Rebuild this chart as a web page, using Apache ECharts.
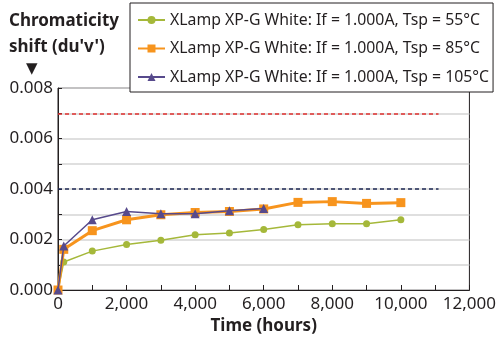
<!DOCTYPE html>
<html>
<head>
<meta charset="utf-8">
<script src="https://cdn.jsdelivr.net/npm/echarts@6/dist/echarts.min.js"></script>
<style>
  html, body { margin: 0; padding: 0; background: #fff; }
  #main { width: 499px; height: 342px; }
</style>
</head>
<body>
<div id="main"></div>
<script>
// time points (hours)
const hours = [0, 168, 1000, 2000, 3000, 4000, 5000, 6000, 7000, 8000, 9000, 10000];
// chromaticity shift du'v'
const tsp55 = [0, 0.00111, 0.00154, 0.00180, 0.00197, 0.00219, 0.00226, 0.00240, 0.00258, 0.00262, 0.00262, 0.00278];
const tsp85 = [0, 0.00161, 0.00235, 0.00278, 0.00298, 0.00307, 0.00311, 0.00321, 0.00347, 0.00350, 0.00343, 0.00346];
const tsp105 = [0, 0.00174, 0.00278, 0.00311, 0.00302, 0.00302, 0.00314, 0.00323];
const seriesNames = [
  'XLamp XP-G White: If = 1.000A, Tsp = 55°C',
  'XLamp XP-G White: If = 1.000A, Tsp = 85°C',
  'XLamp XP-G White: If = 1.000A, Tsp = 105°C'
];
// reference limits
const redLimit = 0.007;
const navyLimit = 0.004;
const limitEnd = 11100;

const pairs = (ys) => ys.map((v, i) => [hours[i], v]);
const font = 'Noto Sans';

const myChart = echarts.init(document.getElementById('main'));

const option = {
  animation: false,
  textStyle: { fontFamily: font },
  title: {
    left: 4,
    top: 3,
    text: '{a|Chromaticity}\n{a|shift (du\'v\')}\n{t|▼}',
    textStyle: {
      rich: {
        a: { fontFamily: font, fontWeight: 'bold', fontSize: 17, color: '#231f20', lineHeight: 26 },
        t: { fontFamily: 'DejaVu Sans', fontSize: 15, color: '#231f20', padding: [0, 0, 0, 17], lineHeight: 18 }
      }
    }
  },
  grid: {
    left: 58,
    right: 28,
    top: 88,
    bottom: 52,
    show: true,
    borderColor: '#231f20',
    borderWidth: 1
  },
  legend: {
    orient: 'vertical',
    left: 130,
    top: 3,
    padding: [9, 4, 7, 7],
    itemGap: 12.5,
    itemWidth: 27,
    itemHeight: 10,
    backgroundColor: '#fff',
    borderColor: '#231f20',
    borderWidth: 1,
    textStyle: { fontFamily: font, fontSize: 15.8, color: '#231f20' },
    data: seriesNames
  },
  xAxis: {
    type: 'value',
    min: 0,
    max: 12000,
    interval: 1000,
    name: 'Time (hours)',
    nameLocation: 'middle',
    nameGap: 28,
    nameTextStyle: { fontFamily: font, fontWeight: 'bold', fontSize: 17, color: '#231f20' },
    axisLine: { lineStyle: { color: '#231f20' } },
    axisTick: { inside: true, length: 5, lineStyle: { color: '#231f20' } },
    splitLine: { show: false },
    axisLabel: {
      fontFamily: font,
      fontSize: 17,
      color: '#231f20',
      margin: 6,
      formatter: (v) => (v % 2000 === 0 ? v.toLocaleString('en-US') : '')
    }
  },
  yAxis: {
    type: 'value',
    min: 0,
    max: 0.008,
    interval: 0.001,
    axisLine: { show: true, lineStyle: { color: '#231f20' } },
    axisTick: { show: true, inside: true, length: 4, lineStyle: { color: '#231f20' } },
    splitLine: { show: true, lineStyle: { color: '#d4d4d4', width: 1.5 } },
    axisLabel: {
      fontFamily: font,
      fontSize: 17,
      color: '#231f20',
      margin: 5,
      formatter: (v) => (Math.round(v * 1000) % 2 === 0 ? v.toFixed(3) : '')
    }
  },
  series: [
    {
      name: seriesNames[0],
      type: 'line',
      data: pairs(tsp55),
      symbol: 'circle',
      symbolSize: 7,
      color: '#a5b83a',
      lineStyle: { width: 1.5 },
      z: 3,
      markLine: {
        silent: true,
        symbol: 'none',
        label: { show: false },
        data: [
          [{ coord: [0, redLimit], lineStyle: { color: '#e0312f', type: [4, 3], width: 1.5 } }, { coord: [limitEnd, redLimit] }],
          [{ coord: [0, navyLimit], lineStyle: { color: '#1f2a55', type: [4, 3], width: 1.5 } }, { coord: [limitEnd, navyLimit] }]
        ]
      }
    },
    {
      name: seriesNames[1],
      type: 'line',
      data: pairs(tsp85),
      symbol: 'rect',
      symbolSize: 9,
      color: '#f7941d',
      lineStyle: { width: 3 },
      z: 4
    },
    {
      name: seriesNames[2],
      type: 'line',
      data: pairs(tsp105),
      symbol: 'triangle',
      symbolSize: 9,
      color: '#574a8c',
      lineStyle: { width: 1.5 },
      z: 5
    }
  ]
};

myChart.setOption(option);
</script>
</body>
</html>
